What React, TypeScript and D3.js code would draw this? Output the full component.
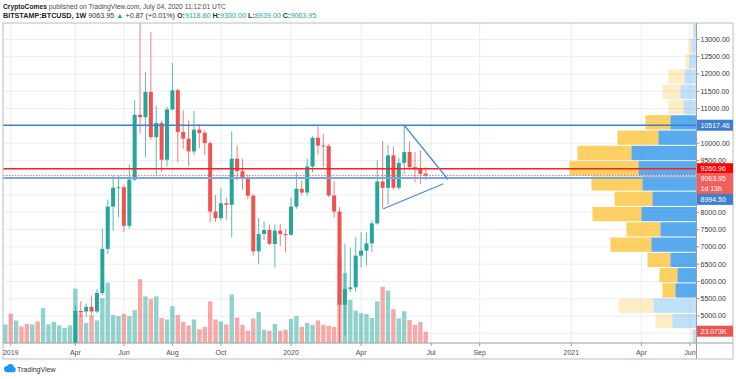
import React from 'react';
import * as d3 from 'd3';

// ---- data ----
const firstWeek = '2018-12-31';
const opens = [3700,4040,3540,3560,3530,3410,3650,3630,3760,3830,3880,3990,4010,4140,5145,5130,5265,5130,5665,6940,8165,8710,8725,7610,8945,10820,10750,11480,10175,10580,9520,10975,11530,10320,10130,9760,10390,10300,10000,8020,7830,8260,8215,9550,9190,9015,8480,6870,7370,7490,7085,7470,7370,7350,8165,8680,8570,9325,10155,9930,9915,8485,8020,5325,5780,5830,6745,6890,7100,7680,8890,8707,9645,8710,9430,9740,9305,9255,9118.8];
const highs = [4090,4110,3720,3640,3560,3690,3720,4180,3900,3920,4000,4100,4150,5300,5420,5360,5585,5780,7530,8370,9065,9065,8800,9380,11240,13880,12060,13217,11090,10650,11050,12320,11580,10950,10660,10930,10550,10380,10050,8500,8700,8430,10340,9930,9550,9090,8530,7840,7740,7650,7650,7665,7520,8435,9160,8920,9550,10200,10480,10270,9980,8900,8150,7085,6980,7275,7420,7420,7760,9500,10060,9950,9900,9570,10513,10050,9740,9790,9300];
const lows = [3650,3550,3520,3470,3380,3390,3560,3620,3700,3700,3810,3950,3950,4100,4975,4970,5050,5080,5600,6800,7470,7855,7420,7520,8900,10270,9595,10100,9065,9160,9325,10950,9450,9840,9325,9650,9850,9650,7710,7720,7770,7790,7275,8920,8650,8380,6745,6500,7200,7050,6405,7020,6840,7320,8100,8485,8480,9160,9660,9300,8435,7850,3850,4440,5700,5700,6405,6460,6850,7640,8100,8220,8650,8650,9110,9230,8870,8820,8939];
const closes = [4040,3540,3560,3530,3410,3650,3630,3870,3830,3880,3990,4010,4140,5145,5100,5265,5130,5665,6940,8165,8710,8725,7610,8945,10820,10750,11480,10175,10580,9520,10975,11530,10320,10130,9760,10390,10290,10000,8020,7830,8260,8215,9550,9190,9015,8480,6870,7370,7490,7085,7470,7370,7350,8165,8680,8570,9325,10155,9930,9915,8485,8020,5325,5780,5830,6745,6890,7100,7680,8890,8707,9645,8710,9430,9740,9305,9240,9110,9063.95];
const volumesK = [38,60,46,34,39,38,44,71,38,43,36,31,36,111,60,41,57,46,92,123,57,55,59,55,67,130,95,90,95,51,48,75,57,43,36,48,28,33,85,48,44,38,99,52,37,25,50,63,27,25,39,25,27,49,55,33,41,37,46,37,35,33,173,143,88,66,61,59,51,85,115,107,69,50,65,47,37,43,23.073];

const tickDates = ['2019-01-07','2019-04-01','2019-06-03','2019-08-05','2019-10-07','2020-01-06','2020-04-06','2020-07-06','2020-09-07','2021-01-04','2021-04-05','2021-06-07'];
const tickLabels = ['2019','Apr','Jun','Aug','Oct','2020','Apr','Jul','Sep','2021','Apr','Jun'];
const gridPrices = [4500,5000,5500,6000,6500,7000,7500,8000,8500,9000,9500,10000,10500,11000,11500,12000,12500,13000];
const priceLabels = [5000,5500,6000,6500,7000,7500,8000,9500,10000,11000,11500,12000,12500,13000];

// visible range volume profile (K BTC per row)
const profileStart = 4191;
const profileRowSize = 442;
const profileUp = [35,240,430,210,190,260,450,360,550,440,540,580,650,380,260,130,160,120,70,50,30,10];
const profileDown = [15,170,350,130,180,230,410,340,490,380,510,690,540,410,250,150,180,160,40,30,10,5];
const valueAreaLow = 3;
const valueAreaHigh = 14;

// drawings
const resistance = 10517.46;
const redLevel = 9260.96;
const support = 8994.5;
const lastPrice = 9063.95;
const triUpper = [{ d: '2020-06-01', p: 10517 }, { d: '2020-07-28', p: 8948 }];
const triLower = [{ d: '2020-05-05', p: 8100 }, { d: '2020-07-22', p: 8823 }];

const FONT = "'Liberation Sans', Arial, sans-serif";
const UP = '#26a69a';
const DOWN = '#ef5350';

const P = { left: 3, right: 696.5, top: 23, bottom: 343, axisBottom: 359, outerRight: 733 };

export default function App() {
  const parse = (s: string) => new Date(s + 'T00:00:00Z');
  const x = d3.scaleUtc().domain([parse('2019-01-07'), parse('2021-06-07')]).range([10.7, 689.9]);
  const y = d3.scaleLinear().domain([5000, 13000]).range([316, 39.4]);
  const yVol = d3.scaleLinear().domain([0, 200]).range([P.bottom, P.bottom - 98]);
  const maxProf = d3.max(profileUp.map((u, i) => u + profileDown[i])) as number;
  const wProf = d3.scaleLinear().domain([0, maxProf]).range([0, 127]);

  const start = parse(firstWeek);
  const bars = opens.map((o, i) => ({
    d: d3.utcMonday.offset(start, i),
    o, h: highs[i], l: lows[i], c: closes[i], v: volumesK[i],
  }));

  const lineGen = d3.line<{ d: string; p: number }>().x(q => x(parse(q.d))).y(q => y(q.p));

  const fmt = d3.format('.2f');

  const axisLabel = (cy: number, text: string, bg: string) => (
    <g key={text}>
      <rect x={697} y={cy - 5.5} width={36} height={11} fill={bg} />
      <text x={700.5} y={cy} dy="0.35em" fontSize={7} fill="#fff">{text}</text>
    </g>
  );

  return (
    <svg width={736} height={379} style={{ position: 'absolute', left: 0, top: 0, background: '#fff' }} fontFamily={FONT}>
      <defs>
        <clipPath id="pane"><rect x={P.left} y={P.top} width={P.right - P.left} height={P.bottom - P.top} /></clipPath>
        <clipPath id="taxis"><rect x={P.left} y={P.bottom} width={P.right - P.left} height={P.axisBottom - P.bottom} /></clipPath>
      </defs>
      <rect x={0} y={0} width={736} height={379} fill="#fff" />

      {/* header */}
      <text x={3} y={8.5} fontSize={6.7} fill="#4a4a4a">
        <tspan fontWeight="bold" fill="#222">CryptoComes</tspan>
        <tspan> published on TradingView.com, July 04, 2020 11:12:01 UTC</tspan>
      </text>
      <text x={3} y={17.5} fontSize={7.2} fill="#333">
        <tspan fontWeight="bold" fill="#222">BITSTAMP:BTCUSD, 1W</tspan>
        <tspan>  9063.95 </tspan>
        <tspan fill={UP}>▲</tspan>
        <tspan> +0.87 (+0.01%) </tspan>
        <tspan fontWeight="bold">O:</tspan><tspan fill={UP}>9118.80 </tspan>
        <tspan fontWeight="bold">H:</tspan><tspan fill={UP}>9300.00 </tspan>
        <tspan fontWeight="bold">L:</tspan><tspan fill={UP}>8939.00 </tspan>
        <tspan fontWeight="bold">C:</tspan><tspan fill={UP}>9063.95</tspan>
      </text>

      {/* pane */}
      <g clipPath="url(#pane)">
        {gridPrices.map(p => (
          <line key={p} x1={P.left} x2={P.right} y1={y(p)} y2={y(p)} stroke="#e9eef3" strokeWidth={1} />
        ))}
        {tickDates.map(t => (
          <line key={t} x1={x(parse(t))} x2={x(parse(t))} y1={P.top} y2={P.bottom} stroke="#e9eef3" strokeWidth={1} />
        ))}

        {/* volume profile */}
        {profileUp.map((u, i) => {
          const dn = profileDown[i];
          const lo = profileStart + i * profileRowSize;
          const y0 = y(lo + profileRowSize) + 0.5;
          const hgt = y(lo) - y(lo + profileRowSize) - 1;
          const inVA = i >= valueAreaLow && i <= valueAreaHigh;
          const op = inVA ? 0.75 : 0.28;
          const wu = wProf(u), wd = wProf(dn);
          return (
            <g key={i}>
              <rect x={P.right - wu - wd} y={y0} width={wd} height={hgt} fill="rgb(251,192,45)" fillOpacity={op} />
              <rect x={P.right - wu} y={y0} width={wu} height={hgt} fill="rgb(33,143,232)" fillOpacity={op} />
            </g>
          );
        })}

        {/* volume */}
        {bars.map((b, i) => {
          const cx = x(b.d);
          return (
            <rect key={i} x={cx - 2.2} width={4.4} y={yVol(b.v)} height={P.bottom - yVol(b.v)}
              fill={b.c >= b.o ? UP : DOWN} fillOpacity={0.5} />
          );
        })}

        {/* candles */}
        {bars.map((b, i) => {
          const cx = x(b.d);
          const col = b.c >= b.o ? UP : DOWN;
          const top = y(Math.max(b.o, b.c));
          const bh = Math.max(1, Math.abs(y(b.o) - y(b.c)));
          return (
            <g key={i}>
              <line x1={cx} x2={cx} y1={y(b.h)} y2={y(b.l)} stroke={col} strokeWidth={1} strokeOpacity={0.75} />
              <rect x={cx - 2} width={4} y={top} height={bh} fill={col} />
            </g>
          );
        })}

        {/* drawings */}
        <line x1={P.left} x2={P.right} y1={y(resistance)} y2={y(resistance)} stroke="#3f7fd0" strokeWidth={1.5} />
        <line x1={P.left} x2={P.right} y1={y(support)} y2={y(support)} stroke="#7aa6e0" strokeWidth={2} />
        <line x1={P.left} x2={P.right} y1={y(redLevel)} y2={y(redLevel)} stroke="#ff1f1f" strokeWidth={1.6} />
        <line x1={P.left} x2={P.right} y1={y(lastPrice)} y2={y(lastPrice)} stroke={DOWN} strokeWidth={0.8} strokeDasharray="1.5,1.5" />
        <path d={lineGen(triUpper) as string} stroke="#4a86e0" strokeWidth={1.2} fill="none" />
        <path d={lineGen(triLower) as string} stroke="#4a86e0" strokeWidth={1.2} fill="none" />
      </g>

      {/* frame */}
      <rect x={P.left} y={P.top} width={P.outerRight - P.left} height={P.axisBottom - P.top} fill="none" stroke="#b9bcc2" strokeWidth={1} />
      <line x1={P.right} x2={P.right} y1={P.top} y2={P.axisBottom} stroke="#9a9ea6" strokeWidth={1} />
      <line x1={P.left} x2={P.outerRight} y1={P.bottom} y2={P.bottom} stroke="#9a9ea6" strokeWidth={1} />

      {/* time axis */}
      <g clipPath="url(#taxis)">
        {tickDates.map((t, i) => (
          <g key={t}>
            <line x1={x(parse(t))} x2={x(parse(t))} y1={P.bottom} y2={P.bottom + 3} stroke="#9a9ea6" />
            <text x={x(parse(t))} y={354.5} fontSize={7} fill="#4d4d4d" textAnchor="middle">{tickLabels[i]}</text>
          </g>
        ))}
      </g>

      {/* price axis */}
      {priceLabels.map(p => (
        <g key={p}>
          <line x1={P.right} x2={P.right + 3} y1={y(p)} y2={y(p)} stroke="#9a9ea6" />
          <text x={700.5} y={y(p)} dy="0.35em" fontSize={7} fill="#333">{fmt(p)}</text>
        </g>
      ))}
      {axisLabel(y(resistance), fmt(resistance), '#3f7fd0')}
      {axisLabel(y(redLevel), fmt(redLevel), '#ff0000')}
      {axisLabel(y(lastPrice) + 3, fmt(lastPrice), '#f0605d')}
      {axisLabel(y(lastPrice) + 13.5, '1d 13h', '#f0605d')}
      {axisLabel(y(support) + 21.5, fmt(support), '#3f7fd0')}
      {axisLabel(yVol(volumesK[volumesK.length - 1]) - 0.5, d3.format('.3f')(volumesK[volumesK.length - 1]) + 'K', '#ef5350')}

      {/* logo */}
      <g fill="#2196f3">
        <circle cx={7} cy={369} r={3} />
        <circle cx={10.5} cy={367.3} r={3.3} />
        <circle cx={13.2} cy={369.5} r={2.5} />
        <rect x={5} y={369} width={10} height={3.2} rx={1.5} />
      </g>
      <text x={17} y={371.5} fontSize={7} fill="#333">TradingView</text>
    </svg>
  );
}
